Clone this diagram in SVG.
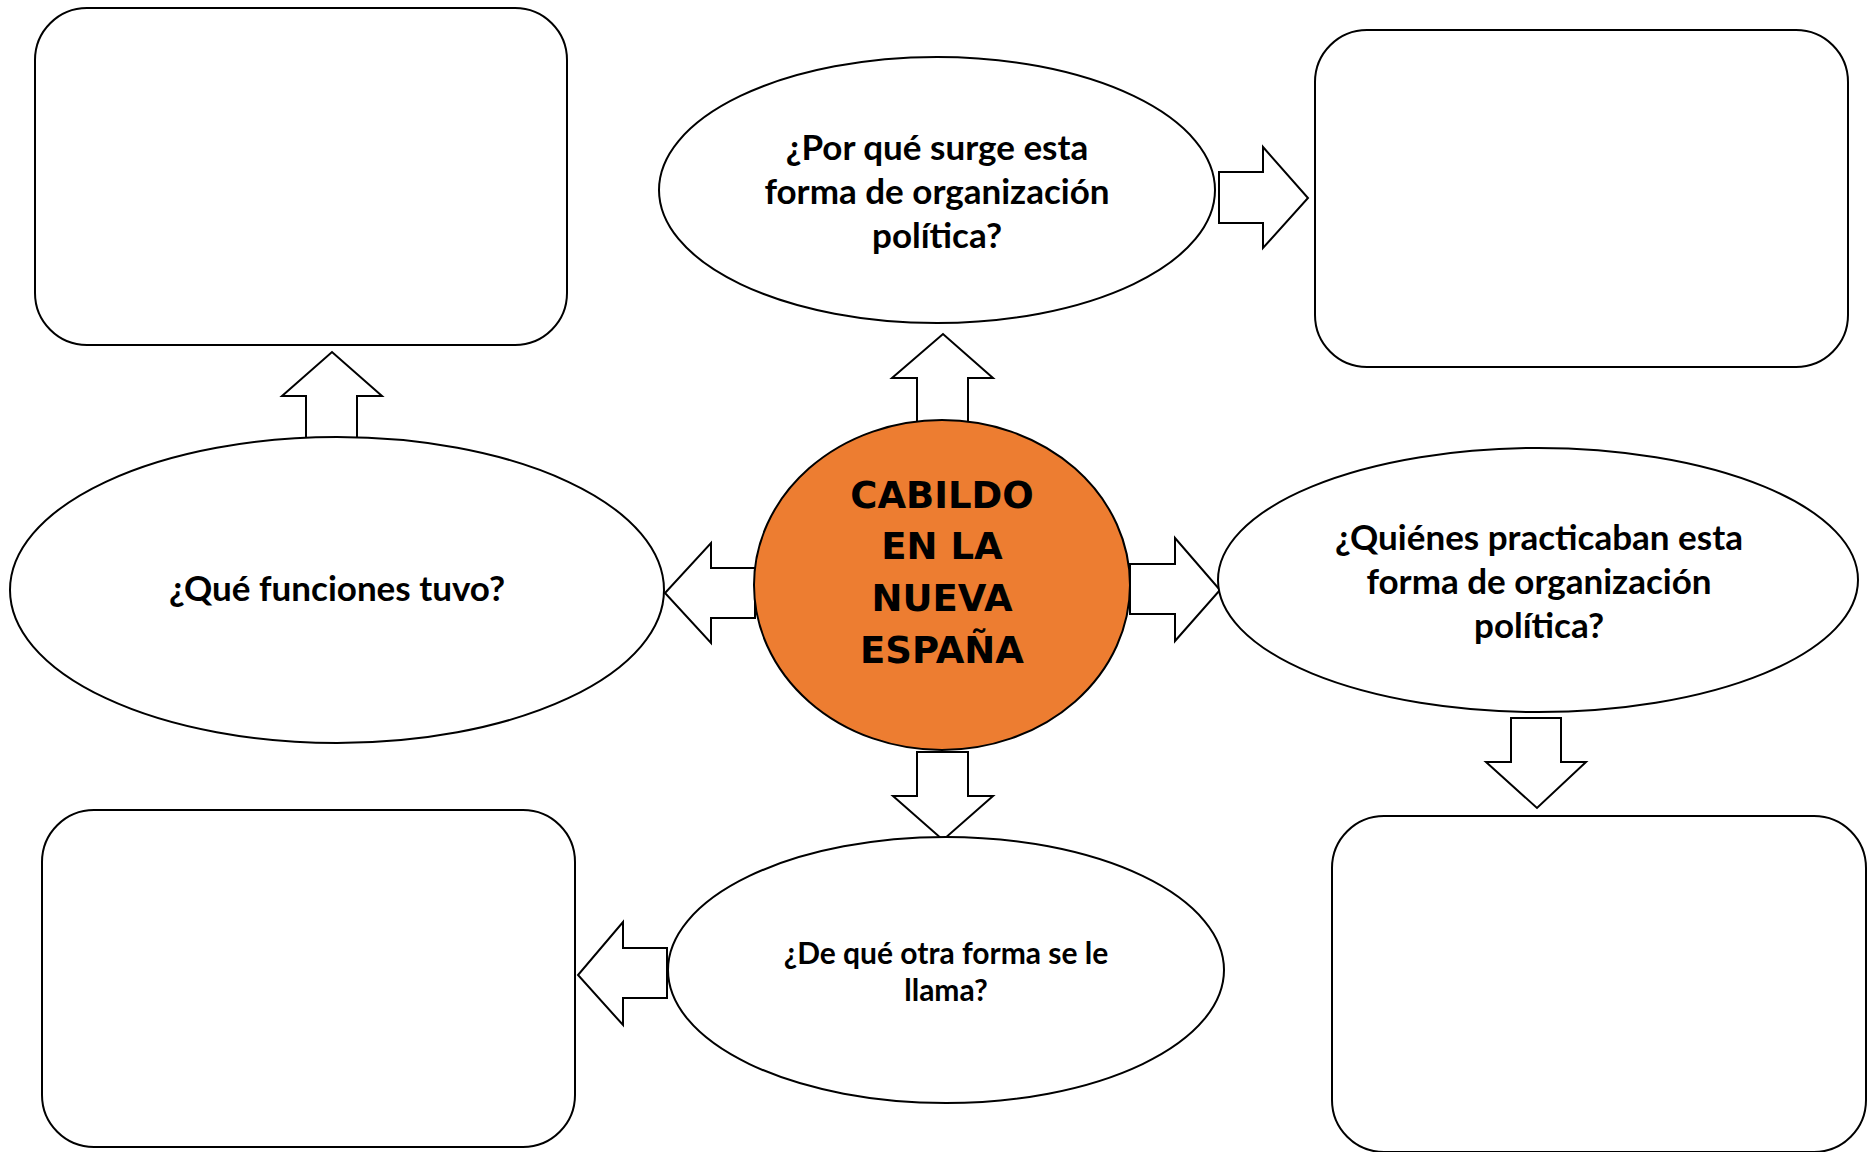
<svg xmlns="http://www.w3.org/2000/svg" width="1876" height="1152" viewBox="0 0 1876 1152">
<style>
.box{fill:#fff;stroke:#000;stroke-width:2}
.ell{fill:#fff;stroke:#000;stroke-width:2}
.core{fill:#ED7D31;stroke:#000;stroke-width:2}
.arr{fill:#fff;stroke:#000;stroke-width:2;stroke-linejoin:miter}
.q{font-family:Lato,"Open Sans","Liberation Sans",sans-serif;font-weight:bold;font-size:35px;fill:#000;text-anchor:middle}
.qs{font-size:30px}
.c{font-family:"DejaVu Sans",Verdana,sans-serif;font-weight:bold;font-size:37px;fill:#000;text-anchor:middle}
</style>
<rect width="1876" height="1152" fill="#fff"/>
<g id="box-top-left"><rect class="box" x="35" y="8" width="532" height="337" rx="52"/></g>
<g id="box-top-right"><rect class="box" x="1315" y="30" width="533" height="337" rx="52"/></g>
<g id="box-bottom-left"><rect class="box" x="42" y="810" width="533" height="337" rx="52"/></g>
<g id="box-bottom-right"><rect class="box" x="1332" y="816" width="534" height="336" rx="52"/></g>
<g id="connectors">
<polygon class="arr" points="917,422 917,378 892,378 943,334 993,378 968,378 968,422"/>
<polygon class="arr" points="1219,172 1263,172 1263,147 1308,198 1263,248 1263,223 1219,223"/>
<polygon class="arr" points="306,441 306,396 282,396 332,352 382,396 357,396 357,441"/>
<polygon class="arr" points="755,568 711,568 711,543 665,593 711,643 711,618 755,618"/>
<polygon class="arr" points="1130,564 1175,564 1175,538 1220,590 1175,641 1175,614 1130,614"/>
<polygon class="arr" points="1511,718 1561,718 1561,762 1586,762 1537,808 1486,762 1511,762"/>
<polygon class="arr" points="917,752 968,752 968,796 993,796 943,840 893,796 917,796"/>
<polygon class="arr" points="667,948 623,948 623,922 578,975 623,1025 623,998 667,998"/>
</g>
<g id="q-top"><ellipse class="ell" cx="937" cy="190" rx="278" ry="133"/>
<text class="q" x="937" y="160">¿Por qué surge esta</text>
<text class="q" x="937" y="204">forma de organización</text>
<text class="q" x="937" y="248">política?</text></g>
<g id="q-left"><ellipse class="ell" cx="337" cy="590" rx="327" ry="153"/>
<text class="q" x="337" y="601">¿Qué funciones tuvo?</text></g>
<g id="q-right"><ellipse class="ell" cx="1538" cy="580" rx="320" ry="132"/>
<text class="q" x="1539" y="550">¿Quiénes practicaban esta</text>
<text class="q" x="1539" y="594">forma de organización</text>
<text class="q" x="1539" y="638">política?</text></g>
<g id="q-bottom"><ellipse class="ell" cx="946" cy="970" rx="278" ry="133"/>
<text class="q qs" x="946" y="964">¿De qué otra forma se le</text>
<text class="q qs" x="946" y="1001">llama?</text></g>
<g id="center"><ellipse class="core" cx="942" cy="585" rx="188" ry="165"/>
<text class="c" x="942" y="508">CABILDO</text>
<text class="c" x="942" y="559">EN LA</text>
<text class="c" x="942" y="611">NUEVA</text>
<text class="c" x="942" y="663">ESPAÑA</text></g>
</svg>
